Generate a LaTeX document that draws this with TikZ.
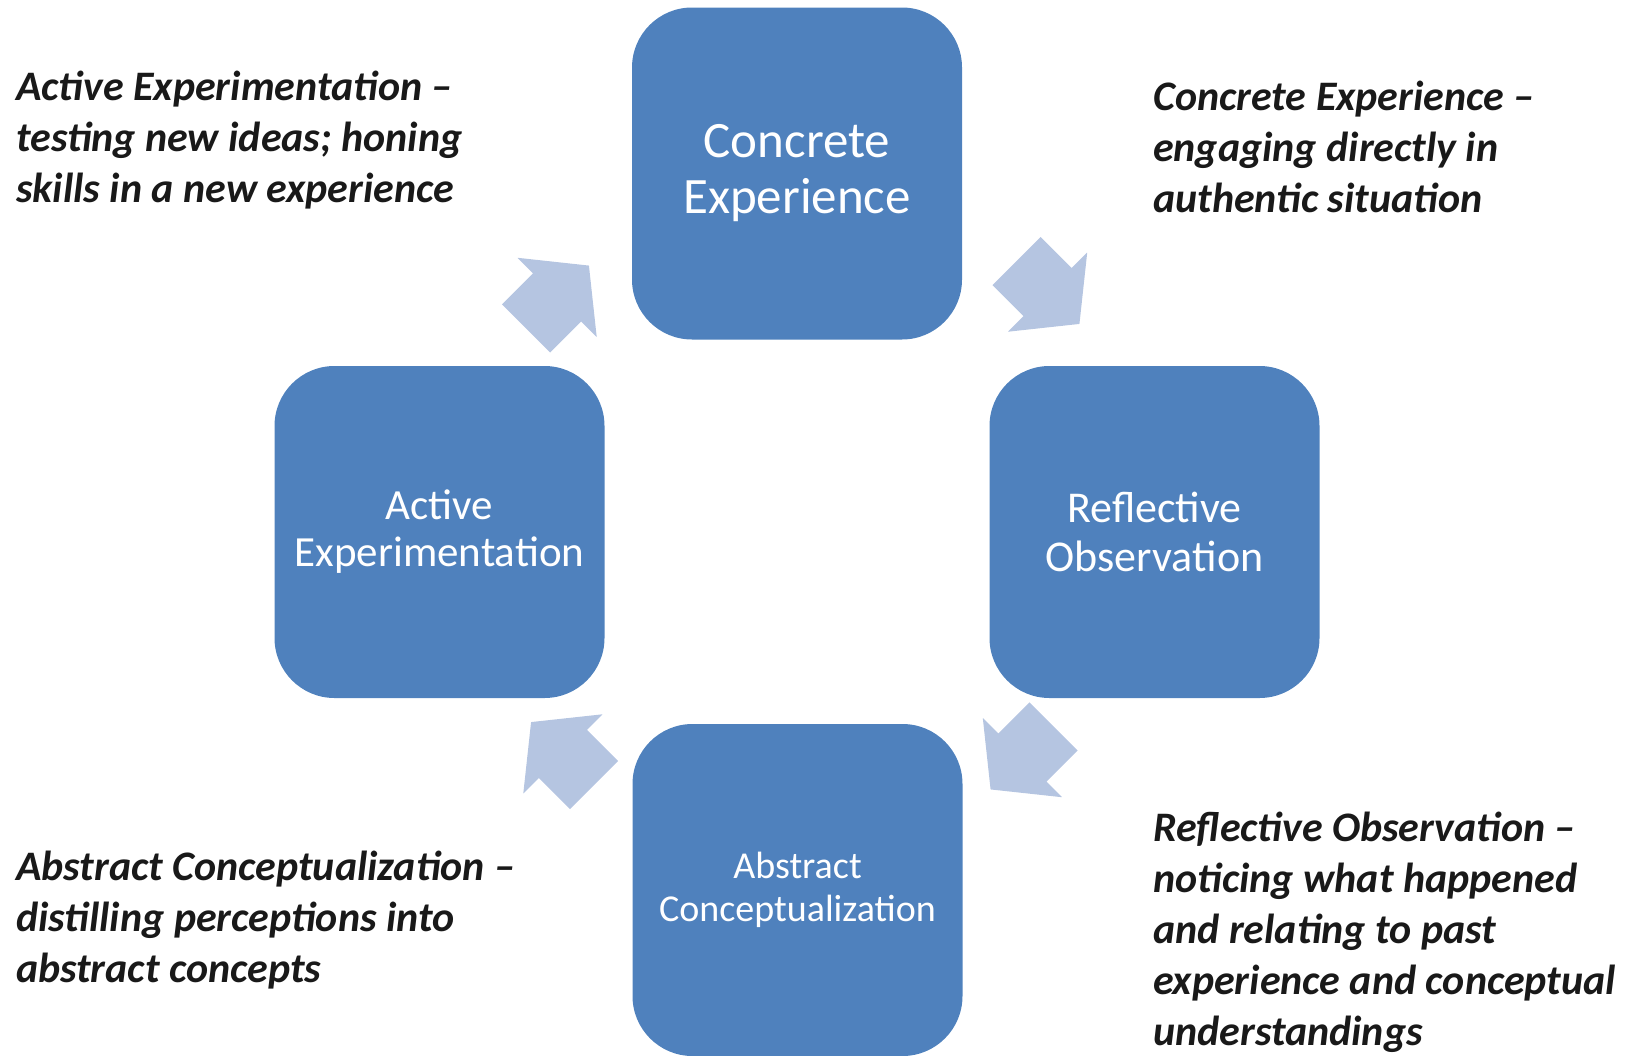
\documentclass[tikz,border=0pt]{standalone}
\usepackage{fontspec}
\setmainfont{Carlito}
\usetikzlibrary{positioning}
\definecolor{boxblue}{RGB}{79,129,189}
\definecolor{arrowblue}{RGB}{181,197,225}
\definecolor{notegray}{RGB}{25,25,25}
\tikzset{
  stage/.style={fill=boxblue, rounded corners=60pt, minimum width=330pt, minimum height=332pt,
    text=white, align=center, inner sep=0pt},
  note/.style={anchor=north west, align=left, text=notegray, inner sep=0pt,
    font=\fontsize{42}{51}\selectfont\bfseries\itshape},
  cyclearrow/.style={fill=arrowblue}
}

\begin{document}
\begin{tikzpicture}[x=1pt,y=-1pt]
        \useasboundingbox (0,0) rectangle (1625,1055);

        \node[stage, font=\fontsize{51}{56}\selectfont] (ce) at (797,173.5) {Concrete\\Experience};
        \node[stage, font=\fontsize{44}{49}\selectfont] (ro) at (1154.5,532) {Reflective\\Observation};
        \node[stage, font=\fontsize{38}{43}\selectfont] (ac) at (797.5,890) {Abstract\\Conceptualization};
        \node[stage, font=\fontsize{43}{47}\selectfont] (ae) at (439.5,532) {Active\\Experimentation};

        \foreach \px/\py/\ang in {526/328.5/45, 1016.5/261/-45, 1053.5/726.5/-135, 594/785/135}
          \fill[cyclearrow, shift={(\px,\py)}, rotate=\ang]
            (0,-34) -- (44,-34) -- (44,-56) -- (89,0) -- (44,56) -- (44,34) -- (0,34) -- cycle;

        \node[note] (aeNote) at (16,71) {Active Experimentation –\\testing new ideas; honing\\skills in a new experience};
        \node[note] (ceNote) at (1153,81) {Concrete Experience –\\engaging directly in\\authentic situation};
        \node[note] (acNote) at (16,851) {Abstract Conceptualization –\\distilling perceptions into\\abstract concepts};
        \node[note] (roNote) at (1153,812) {Reflective Observation –\\noticing what happened\\and relating to past\\experience and conceptual\\understandings};
\end{tikzpicture}
\end{document}
